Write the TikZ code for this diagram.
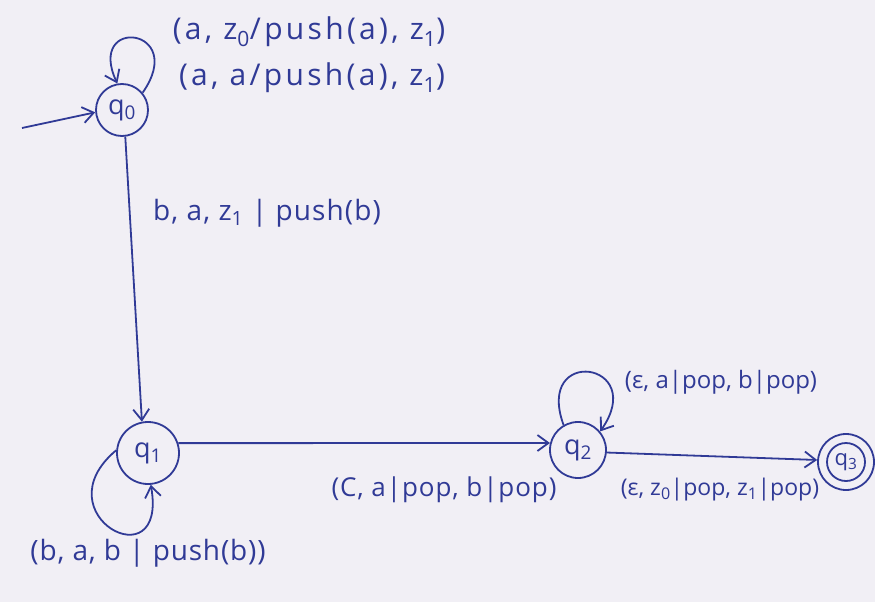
\documentclass[tikz,border=0pt]{standalone}
\usepackage{fontspec}
\setmainfont{Open Sans}
\usetikzlibrary{arrows.meta}
\definecolor{ink}{RGB}{48,58,150}
\definecolor{paper}{RGB}{241,239,245}
\begin{document}
\begin{tikzpicture}[x=1pt,y=1pt,
  state/.style={circle,draw=ink,line width=1.8pt,inner sep=0pt,text=ink,
    font=\fontsize{27}{29}\selectfont},
  edge/.style={draw=ink,line width=1.8pt,
    -{Straight Barb[length=11pt,width=16pt,line width=1.8pt]}},
  lbl/.style={text=ink,inner sep=0pt}]
\fill[paper] (0,0) rectangle (875,-602);
\useasboundingbox (0,0) rectangle (875,-602);

\node[state,minimum size=52pt] (q0) at (122,-110) {q\textsubscript{0}};
\node[state,minimum size=62pt] (q1) at (148,-453) {q\textsubscript{1}};
\node[state,minimum size=56pt] (q2) at (578,-450) {q\textsubscript{2}};
\node[state,minimum size=56pt,font=\fontsize{22}{24}\selectfont] (q3) at (846,-462) {q\textsubscript{3}};
\draw[ink,line width=1.8pt] (q3.center) circle[radius=19pt];

\coordinate (start) at (22,-128);
\draw[edge] (start) -- (q0.185);

% self loops
\draw[edge] (q0.40) .. controls +(55:80) and +(115:75) .. (q0.100);
\draw[edge] (q1.175) .. controls +(220:100) and +(-80:100) .. (q1.-85);
\draw[edge] (q2.120) .. controls +(110:85) and +(55:85) .. (q2.40);

% transitions
\draw[edge] (q0.-83) -- (q1.101);
\draw[edge] (q1.18) -- (q2.166);
\draw[edge] (q2.-5) -- (q3.176);

% labels
\node[lbl,font={\fontsize{30}{32}\selectfont\addfontfeature{LetterSpace=11}}] (l0a) at (309,-32) {(a, z\textsubscript{0}/push(a), z\textsubscript{1})};
\node[lbl,font={\fontsize{30}{32}\selectfont\addfontfeature{LetterSpace=11}}] (l0b) at (312,-78) {(a, a/push(a), z\textsubscript{1})};
\node[lbl,font={\fontsize{28}{30}\selectfont\addfontfeature{LetterSpace=4}}] (l01) at (267,-213) {b, a, z\textsubscript{1} | push(b)};
\node[lbl,font={\fontsize{28}{30}\selectfont\addfontfeature{LetterSpace=3}}] (l11) at (148,-553) {(b, a, b | push(b))};
\node[lbl,font={\fontsize{26}{28}\selectfont\addfontfeature{LetterSpace=3.5}}] (l12) at (444,-490) {(C, a|pop, b|pop)};
\node[lbl,font={\fontsize{24}{26}\selectfont}] (l22) at (721,-382) {(ε, a|pop, b|pop)};
\node[lbl,font={\fontsize{23}{25}\selectfont}] (l23) at (720,-490) {(ε, z\textsubscript{0}|pop, z\textsubscript{1}|pop)};
\end{tikzpicture}
\end{document}
